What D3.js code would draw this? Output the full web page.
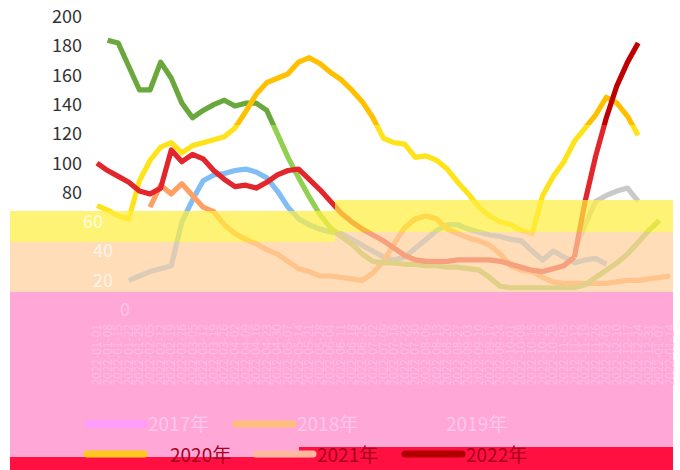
<!DOCTYPE html>
<html><head><meta charset="utf-8">
<script src="https://cdn.jsdelivr.net/npm/d3@7"></script>
<style>html,body{margin:0;padding:0;background:#fff;} svg{display:block;}</style>
</head><body><svg id="c" width="680" height="470"></svg>
<script>
// ---- data ----
const categories = ["01-01","01-08","01-15","01-22","01-29","02-05","02-12","02-19","02-26","03-05","03-12","03-19","03-26","04-02","04-09","04-16","04-23","04-30","05-07","05-14","05-21","05-28","06-04","06-11","06-18","06-25","07-02","07-09","07-16","07-23","07-30","08-06","08-13","08-20","08-27","09-03","09-10","09-17","09-24","10-01","10-08","10-15","10-22","10-29","11-05","11-12","11-19","11-26","12-03","12-10","12-17","12-24","12-31","01-07","01-14"];
const seriesNames = ["2017年","2018年","2019年","2020年","2021年","2022年","均值"];
const vals2017 = [null,null,null,20,23,26,28,30,60,75,88,92,93,95,96,94,90,81,70,62,58,55,53,52,48,44,40,36,34,36,42,48,54,58,58,55,53,51,50,48,47,40,34,40,36,32,34,35,31,null,null,null,null,null,null];
const vals2018 = [null,null,null,null,null,70,85,79,86,78,70,67,58,52,48,45,41,38,33,28,26,23,23,22,21,20,25,33,45,56,62,64,62,55,52,49,47,44,38,30,27,26,22,19,18,18,18,18,18,19,20,20,21,22,23];
const vals2019 = [null,184,182,166,150,150,169,158,141,131,136,140,143,139,141,141,136,120,104,90,77,65,56,50,45,38,33,32,32,31,31,30,30,29,29,28,27,22,16,15,15,15,15,15,15,15,17,22,27,32,38,46,54,61,null];
const vals2020 = [71,68,64,62,88,102,111,114,107,112,114,116,118,124,135,147,155,158,161,169,172,168,162,157,150,142,131,117,114,113,104,105,102,96,87,79,70,64,60,58,54,52,78,91,101,115,124,133,145,141,132,119,null,null,null];
const vals2021 = [100,95,91,87,81,79,83,109,101,106,103,95,89,84,85,83,87,92,95,96,89,82,74,66,60,55,51,47,42,37,34,33,33,33,34,34,34,34,33,31,29,27,26,28,30,36,null,null,null,null,null,null,null,null,null];
const vals2022 = [null,null,null,null,null,null,null,null,null,null,null,null,null,null,null,null,null,null,null,null,null,null,null,null,null,null,null,null,null,null,null,null,null,null,null,null,null,null,null,null,null,null,null,null,null,36,74,105,131,153,169,182,null,null,null];
const valsAvg = [null,null,null,null,null,null,null,null,null,null,null,null,null,null,null,null,null,null,null,null,null,null,null,null,null,null,null,null,null,null,null,null,null,null,null,null,null,null,null,null,null,null,null,null,null,40,58,74,78,81,83,74,null,null,null];
const yTicks = [0,20,40,60,80,100,120,140,160,180,200];

// colours: [upper-zone colour, lower-zone colour]
const seriesColors = [["#80BEF5","#80BEF5"],["#FFA062","#FFA062"],["#6AA83E","#92D050"],["#FFC000","#FFE31A"],["#E3262B","#E3262B"],["#C00000","#E3262B"],["#C9C9C9","#C9C9C9"]];
const legendShown = ["#FF9CFF","#FFBE80","#FFA8D8","#FFC81E","#FFB8A0","#B00000"];

const series = [
  {name: seriesNames[6], values: valsAvg, c: seriesColors[6]},
  {name: seriesNames[0], values: vals2017, c: seriesColors[0]},
  {name: seriesNames[1], values: vals2018, c: seriesColors[1]},
  {name: seriesNames[2], values: vals2019, c: seriesColors[2]},
  {name: seriesNames[3], values: vals2020, c: seriesColors[3]},
  {name: seriesNames[4], values: vals2021, c: seriesColors[4]},
  {name: seriesNames[5], values: vals2022, c: seriesColors[5]}
];

// ---- chart ----
const svg = d3.select("#c");
const W = 680, H = 470;
const x = d3.scalePoint().domain(categories).range([97, 670]);
const y = d3.scaleLinear().domain([0, 200]).range([309.7, 16.7]);
const splitY = 125;
const FONT = "'Noto Sans CJK SC', 'Noto Sans', sans-serif";

const defs = svg.append("defs");
defs.append("clipPath").attr("id","upper").append("rect").attr("x",0).attr("y",0).attr("width",W).attr("height",splitY);
defs.append("clipPath").attr("id","lower").append("rect").attr("x",0).attr("y",splitY).attr("width",W).attr("height",H-splitY);

const line = d3.line()
  .defined(d => d != null)
  .x((d, i) => x(categories[i]))
  .y(d => y(d));

const gLines = svg.append("g");
["upper","lower"].forEach((zone, zi) => {
  const g = gLines.append("g").attr("clip-path", `url(#${zone})`);
  series.forEach(s => {
    g.append("path")
      .attr("d", line(s.values))
      .attr("fill","none")
      .attr("stroke", s.c[zi])
      .attr("stroke-width", 5.2)
      .attr("stroke-linejoin","round")
      .attr("stroke-linecap","butt");
  });
});

// ---- overlay bands ----
const gBands = svg.append("g");
gBands.append("rect").attr("x",10).attr("y",211).attr("width",325).attr("height",31).attr("fill","#FFEE41").attr("opacity",0.72);
gBands.append("rect").attr("x",335).attr("y",200).attr("width",338).attr("height",32).attr("fill","#FFEE41").attr("opacity",0.72);
gBands.append("rect").attr("x",10).attr("y",242).attr("width",325).attr("height",50).attr("fill","#FFD09C").attr("opacity",0.72);
gBands.append("rect").attr("x",335).attr("y",232).attr("width",338).attr("height",60).attr("fill","#FFD09C").attr("opacity",0.72);
gBands.append("rect").attr("x",10).attr("y",292).attr("width",663).attr("height",165).attr("fill","#FFA8D8");

// x-axis labels (faint inside pink band)
svg.append("g").selectAll("text").data(categories).join("text")
  .attr("transform", d => `translate(${x(d)+4},324) rotate(-90)`)
  .attr("text-anchor","end")
  .attr("font-family", FONT)
  .attr("font-size", 12)
  .attr("fill","#FFBDE4")
  .text(d => "2022-" + d);

// y axis tick labels (drawn from the y scale)
const shiftX = d => d >= 80 ? 0 : d === 60 ? 21 : d > 0 ? 31 : 48;
svg.append("g").selectAll("text").data(yTicks).join("text")
  .attr("x", d => 82 + shiftX(d))
  .attr("y", d => y(d))
  .attr("dy", "0.35em")
  .attr("text-anchor","end")
  .attr("font-family", FONT)
  .attr("font-size", 18)
  .attr("fill", d => d >= 80 ? "#333333" : d === 60 ? "#FFFBE0" : d > 0 ? "#FFF4E8" : "#FFC6E6")
  .text(d => d);

// red strip at bottom
const gRed = svg.append("g");
gRed.append("rect").attr("x",10).attr("y",457).attr("width",289).attr("height",13).attr("fill","#FF1040");
gRed.append("rect").attr("x",299).attr("y",447).attr("width",374).attr("height",23).attr("fill","#FF1040");

// legend
const legend = svg.append("g");
const legendItems = seriesNames.slice(0,6).map((n, i) => {
  const col = i % 3, row = Math.floor(i / 3);
  const mx = 87 + col * 149 + (row === 1 && col > 0 ? 20 : 0);
  return {name: n, color: legendShown[i], row, mx, my: row === 0 ? 424 : 454,
          tx: mx + 61 + (row === 1 && col === 0 ? 22 : 0)};
});
legend.selectAll("line").data(legendItems).join("line")
  .attr("x1", d => d.mx).attr("x2", d => d.mx + 57)
  .attr("y1", d => d.my).attr("y2", d => d.my)
  .attr("stroke", d => d.color).attr("stroke-width", 7).attr("stroke-linecap","round");
legend.selectAll("text").data(legendItems).join("text")
  .attr("x", d => d.tx).attr("y", d => d.my + (d.row === 1 ? 8 : 7))
  .attr("font-family", FONT)
  .attr("font-size", 19)
  .attr("fill", d => d.row === 0 ? "#FFC6EA" : "#A8001E")
  .text(d => d.name);
</script>
</body></html>
